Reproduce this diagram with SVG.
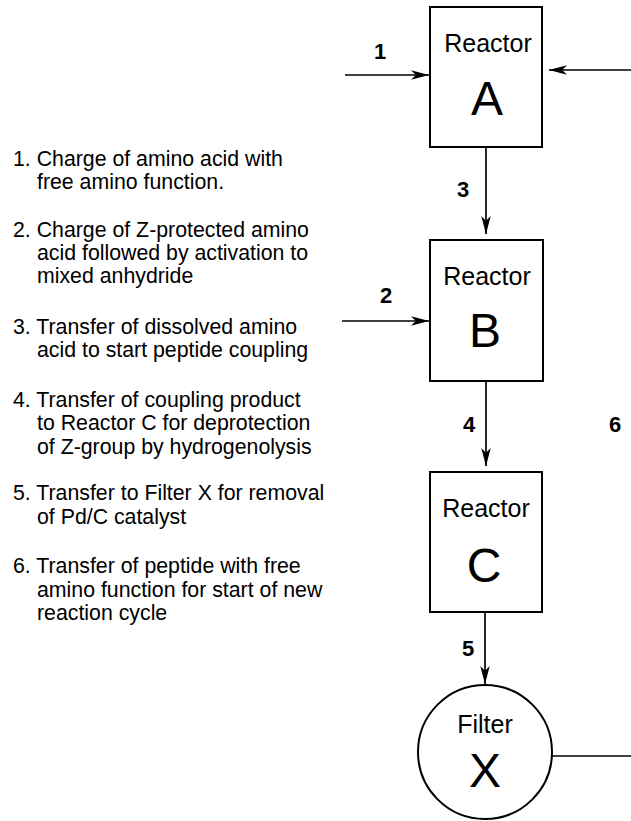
<svg xmlns="http://www.w3.org/2000/svg" width="631" height="821" viewBox="0 0 631 821">
<defs>
<marker id="arr" markerUnits="userSpaceOnUse" markerWidth="19" markerHeight="12" viewBox="0 0 18 11" refX="17" refY="5.5" orient="auto">
<path d="M0,1 L17,5.5 L0,10 L4.5,5.5 Z" fill="#000"/>
</marker>
</defs>
<style>
.box{fill:#fff;stroke:#000;stroke-width:2}
.ln{fill:none;stroke:#000;stroke-width:1.7}
.t{font-family:"Liberation Sans",Arial,sans-serif;fill:#000}
.lbl{font-size:25px;text-anchor:middle}
.big{font-size:48px;text-anchor:middle}
.num{font-size:22px;font-weight:bold;text-anchor:middle}
.leg{font-size:21.3px}
</style>
<rect width="631" height="821" fill="#fff"/>
<g id="connectors">
<line class="ln" x1="345" y1="75" x2="429" y2="75" marker-end="url(#arr)"/>
<line class="ln" x1="631" y1="70" x2="549" y2="70" marker-end="url(#arr)"/>
<line class="ln" x1="486" y1="147" x2="486" y2="234" marker-end="url(#arr)"/>
<line class="ln" x1="342" y1="321" x2="429" y2="321" marker-end="url(#arr)"/>
<line class="ln" x1="486" y1="381" x2="486" y2="466" marker-end="url(#arr)"/>
<line class="ln" x1="485" y1="612" x2="485" y2="684" marker-end="url(#arr)"/>
<line class="ln" x1="552" y1="756" x2="631" y2="756"/>
<text class="t num" x="380" y="59">1</text>
<text class="t num" x="386" y="303">2</text>
<text class="t num" x="463" y="197">3</text>
<text class="t num" x="469" y="432">4</text>
<text class="t num" x="615" y="432">6</text>
<text class="t num" x="468" y="656">5</text>
</g>
<g id="reactorA">
<rect class="box" x="430" y="7" width="112" height="140"/>
<text class="t lbl" x="488" y="52">Reactor</text>
<text class="t big" x="487" y="115">A</text>
</g>
<g id="reactorB">
<rect class="box" x="430" y="240" width="113" height="141"/>
<text class="t lbl" x="487" y="285">Reactor</text>
<text class="t big" x="485" y="347">B</text>
</g>
<g id="reactorC">
<rect class="box" x="430" y="472" width="112" height="140"/>
<text class="t lbl" x="486" y="517">Reactor</text>
<text class="t big" x="484" y="582">C</text>
</g>
<g id="filterX">
<circle class="box" cx="485" cy="752" r="67"/>
<text class="t lbl" x="485" y="733">Filter</text>
<text class="t big" x="485" y="787">X</text>
</g>
<g id="legend" class="t leg">
<text x="13" y="166">1. Charge of amino acid with</text>
<text x="37" y="189">free amino function.</text>
<text x="13" y="237">2. Charge of Z-protected amino</text>
<text x="37" y="260">acid followed by activation to</text>
<text x="37" y="283">mixed anhydride</text>
<text x="13" y="334">3. Transfer of dissolved amino</text>
<text x="37" y="357">acid to start peptide coupling</text>
<text x="13" y="407">4. Transfer of coupling product</text>
<text x="37" y="430">to Reactor C for deprotection</text>
<text x="37" y="454">of Z-group by hydrogenolysis</text>
<text x="13" y="500">5. Transfer to Filter X for removal</text>
<text x="37" y="524">of Pd/C catalyst</text>
<text x="13" y="573">6. Transfer of peptide with free</text>
<text x="37" y="597">amino function for start of new</text>
<text x="37" y="620">reaction cycle</text>
</g>
</svg>
